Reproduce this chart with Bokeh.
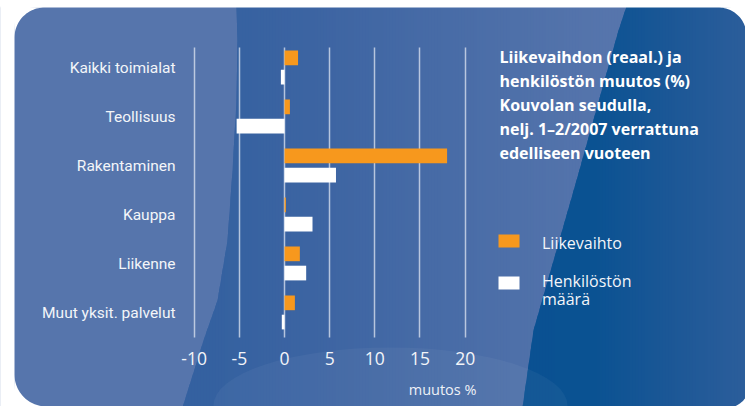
import numpy as np
from bokeh.plotting import figure
from bokeh.models import Range1d, FixedTicker, LinearAxis, ColumnDataSource
from bokeh.embed import file_html
from bokeh.resources import INLINE
from bokeh.core.properties import value

# ---------------- data ----------------
categories = ["Kaikki toimialat", "Teollisuus", "Rakentaminen", "Kauppa",
              "Liikenne", "Muut yksit. palvelut"]
liikevaihto = [1.5, 0.6, 18.0, 0.15, 1.7, 1.15]
henkiloston_maara = [-0.4, -5.3, 5.7, 3.1, 2.4, -0.3]
x_ticks = [-10, -5, 0, 5, 10, 15, 20]
x_tick_labels = ["-10", "-5", "0", "5", "10", "15", "20"]
series_labels = ["Liikevaihto", "Henkilöstön\nmäärä"]
title_lines = ["Liikevaihdon (reaal.) ja", "henkilöstön muutos (%)",
               "Kouvolan seudulla,", "nelj. 1–2/2007 verrattuna",
               "edelliseen vuoteen"]
x_title = "muutos %"

ORANGE = "#f7981d"
WHITE = "#ffffff"
series_colors = [ORANGE, WHITE]

# ---------------- layout constants ----------------
W, H = 745, 406
X_ZERO = 284.0      # pixel of value 0
X_SCALE = 9.033     # pixels per unit
Y_FIRST = 67.0      # pixel of first category centre
Y_STEP = 49.0       # pixels per category

p = figure(width=W, height=H,
           x_range=Range1d(-X_ZERO / X_SCALE, (W - X_ZERO) / X_SCALE),
           y_range=Range1d((H - Y_FIRST) / Y_STEP, -Y_FIRST / Y_STEP),
           output_backend="svg", toolbar_location=None,
           x_axis_location=None, y_axis_location=None,
           min_border=0, outline_line_color=None,
           background_fill_color="white", border_fill_color="white")
p.grid.visible = False
p.extra_x_ranges = {"px": Range1d(0, W)}
p.extra_y_ranges = {"px": Range1d(H, 0)}


# ---------------- background decoration ----------------
def h2r(h):
    h = h.lstrip("#")
    return np.array([int(h[i:i + 2], 16) for i in (0, 2, 4)], float)


def grad(x, stops):
    xs = [s[0] for s in stops]
    cols = np.array([h2r(s[1]) for s in stops])
    r = [np.interp(x, xs, cols[:, k]) for k in range(3)]
    return "#%02x%02x%02x" % tuple(int(round(v)) for v in r)


ys = np.linspace(6, 407, 160)
lx = np.interp(ys, [6, 40, 100, 170, 240, 300, 340, 407],
               [236, 237, 236, 232, 227, 217, 203, 182])
dx = np.interp(ys, [6, 30, 180, 330, 407], [626, 618, 576, 533, 522])

bg_xs, bg_ys, bg_c = [], [], []
# left light panel
bg_xs.append(np.concatenate([[0], lx + 1, [0]]))
bg_ys.append(np.concatenate([[6], ys, [407]]))
bg_c.append("#5675ac")
# middle gradient (overlapping strips)
mid_stops = [(208, "#3461a0"), (308, "#3c64a2"), (608, "#5675ac")]
for xa in range(176, 630, 3):
    xb = xa + 5
    le = np.clip(lx, xa, xb)
    ri = np.clip(dx + 1, xa, xb)
    bg_xs.append(np.concatenate([le, ri[::-1]]))
    bg_ys.append(np.concatenate([ys, ys[::-1]]))
    bg_c.append(grad(xa + 2, mid_stops))
# dark right gradient
dark_stops = [(518, "#0a5192"), (593, "#0a5292"), (668, "#1b5796"), (748, "#2c5e9b")]
for xa in range(515, 748, 3):
    xb = xa + 5
    le = np.clip(dx, xa, xb)
    ri = np.full_like(ys, xb)
    bg_xs.append(np.concatenate([le, ri[::-1]]))
    bg_ys.append(np.concatenate([ys, ys[::-1]]))
    bg_c.append(grad(xa + 2, dark_stops))

p.patches(xs=bg_xs, ys=bg_ys, fill_color=bg_c, line_color=None,
          x_range_name="px", y_range_name="px", level="image")

# soft light ellipse near the bottom
p.ellipse(x=[390], y=[405], width=354, height=116, fill_color="white",
          fill_alpha=0.045, line_color=None, x_range_name="px", y_range_name="px",
          level="image")


# white masks (outside the rounded panel)
def corner(cx, cy, r, a0, a1, px_, py_):
    t = np.linspace(a0, a1, 30)
    return (np.concatenate([[px_], cx + r * np.cos(t)]),
            np.concatenate([[py_], cy + r * np.sin(t)]))


m_xs, m_ys = [], []
for cx, cy, r, a0, a1, px_, py_ in [
        (44, 37, 30, np.pi, 1.5 * np.pi, 13, 6),
        (46, 374, 32, 0.5 * np.pi, np.pi, 13, 407),
        (718, 35, 28, 1.5 * np.pi, 2 * np.pi, 747, 6),
        (724, 382, 26, 0, 0.5 * np.pi, 747, 407)]:
    a, b = corner(cx, cy, r, a0, a1, px_, py_)
    m_xs.append(a)
    m_ys.append(b)
m_xs.append(np.array([-2, 14, 14, -2]))
m_ys.append(np.array([-2, -2, 410, 410]))
m_xs.append(np.array([-2, 750, 750, -2]))
m_ys.append(np.array([-2, -2, 7, 7]))
p.patches(xs=m_xs, ys=m_ys, fill_color="white", line_color=None,
          x_range_name="px", y_range_name="px", level="image")

# ---------------- axes (gridlines drawn as long ticks) ----------------
GRID_TOP = (47 - Y_FIRST) / Y_STEP
GRID_BOTTOM = (337 - Y_FIRST) / Y_STEP
xaxis = LinearAxis(ticker=FixedTicker(ticks=x_ticks), fixed_location=GRID_BOTTOM,
                   major_label_overrides=dict(zip(x_ticks, x_tick_labels)))
xaxis.axis_line_color = None
xaxis.major_tick_in = int(round((GRID_BOTTOM - GRID_TOP) * Y_STEP))
xaxis.major_tick_out = 0
xaxis.major_tick_line_color = "#dfe6f2"
xaxis.major_tick_line_alpha = 0.75
xaxis.major_tick_line_width = 1.5
xaxis.minor_tick_line_color = None
xaxis.major_label_standoff = 14
xaxis.major_label_text_font = "Open Sans"
xaxis.major_label_text_font_size = "17.5px"
xaxis.major_label_text_color = "#f3f5f9"
xaxis.level = "underlay"
p.add_layout(xaxis, "below")

yaxis = LinearAxis(ticker=FixedTicker(ticks=list(range(len(categories)))),
                   major_label_overrides={i: c for i, c in enumerate(categories)},
                   fixed_location=(175 - X_ZERO) / X_SCALE)
yaxis.axis_line_color = None
yaxis.major_tick_line_color = None
yaxis.minor_tick_line_color = None
yaxis.major_tick_in = 0
yaxis.major_tick_out = 0
yaxis.major_label_standoff = 0
yaxis.major_label_text_font = "Roboto"
yaxis.major_label_text_font_size = "15.5px"
yaxis.major_label_text_color = "#f3f5f9"
yaxis.level = "underlay"
p.add_layout(yaxis, "left")

# ---------------- bars ----------------
pos = np.arange(len(categories))
src = ColumnDataSource(dict(
    y1=pos - 0.197, y2=pos + 0.195,
    liikevaihto=liikevaihto, henkilosto=henkiloston_maara))
p.hbar(y="y1", left=0, right="liikevaihto", height=0.3, source=src,
       fill_color=series_colors[0], line_color=None)
p.hbar(y="y2", left=0, right="henkilosto", height=0.3, source=src,
       fill_color=series_colors[1], line_color=None)

# ---------------- title block ----------------
p.text(x=[499] * len(title_lines), y=[56.5 + 24 * i for i in range(len(title_lines))],
       text=title_lines, x_range_name="px", y_range_name="px",
       text_font=value("Open Sans"), text_font_style="bold",
       text_font_size="16px", text_color="white", text_baseline="middle")

# ---------------- legend ----------------
leg_box_y = [240.5, 282.5]
leg_text_y = [242, 280]
for k, (lab, col) in enumerate(zip(series_labels, series_colors)):
    p.rect(x=[508.5], y=[leg_box_y[k]], width=21, height=13, fill_color=col,
           line_color=None, x_range_name="px", y_range_name="px")
    lines = lab.split("\n")
    p.text(x=[541.5] * len(lines), y=[leg_text_y[k] + 18 * j for j in range(len(lines))],
           text=lines, x_range_name="px", y_range_name="px",
           text_font=value("Open Sans"), text_font_size="16px",
           text_color="#f3f5f9", text_baseline="middle")

# axis title
p.text(x=[476], y=[389], text=[x_title], x_range_name="px", y_range_name="px",
       text_font=value("Open Sans"), text_font_size="14.5px",
       text_color="#eef1f7", text_align="right", text_baseline="middle")

open("out.html", "w").write(file_html(p, INLINE))
